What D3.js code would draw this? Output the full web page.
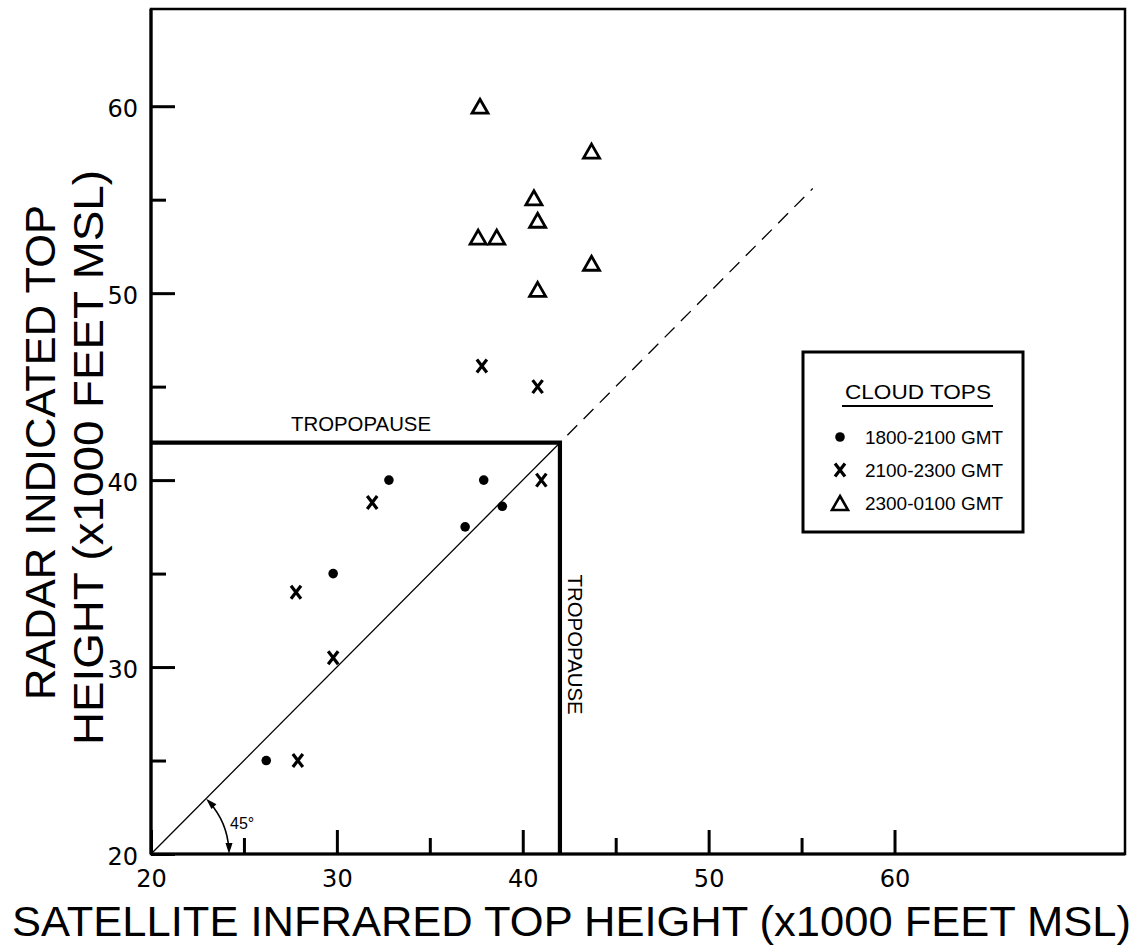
<!DOCTYPE html>
<html>
<head>
<meta charset="utf-8">
<script src="https://cdn.jsdelivr.net/npm/d3@7"></script>
<style>
  html, body { margin: 0; padding: 0; background: #fff; }
  svg { display: block; }
  text { fill: #000; }
</style>
</head>
<body>
<svg id="chart" width="1143" height="950"></svg>
<script>
// ---- data (x1000 ft MSL) ----
const seriesNames = ["1800-2100 GMT", "2100-2300 GMT", "2300-0100 GMT"];
const dotX   = [26.2, 29.8, 32.8, 36.9, 37.9, 38.9];
const dotY   = [25.0, 35.0, 40.0, 37.5, 40.0, 38.6];
const crossX = [27.9, 27.8, 29.8, 31.9, 41.0, 37.8, 40.8];
const crossY = [25.0, 34.0, 30.5, 38.8, 40.0, 46.1, 45.0];
const triX   = [37.7, 43.7, 40.6, 40.8, 37.6, 38.6, 43.7, 40.8];
const triY   = [60.0, 57.6, 55.1, 53.9, 53.0, 53.0, 51.6, 50.2];
const majorTicks = [20, 30, 40, 50, 60];
const minorTicks = [25, 35, 45, 55];
const tropopause = 42;
const diagSolidEnd = 42;
const diagDashStart = 42.4, diagDashEnd = 55.6;
const xTitle = "SATELLITE INFRARED TOP HEIGHT (x1000 FEET MSL)";
const yTitle1 = "RADAR INDICATED TOP";
const yTitle2 = "HEIGHT (x1000 FEET MSL)";
const legendTitle = "CLOUD TOPS";

// ---- layout ----
const L = 151, R = 1125, T = 9, B = 854;
const x = d3.scaleLinear().domain([20, 72.4]).range([L, R]);
const y = d3.scaleLinear().domain([20, 65.2]).range([B, T]);

const svg = d3.select("#chart");
const tickFont = "'DejaVu Sans', sans-serif";
const letterFont = "'Liberation Sans', Arial, sans-serif";

// frame
svg.append("rect").attr("x", L).attr("y", T).attr("width", R - L).attr("height", B - T)
  .attr("fill", "none").attr("stroke", "#000").attr("stroke-width", 2.5);

// axes (ticks inward)
function styleAxis(g) {
  g.select(".domain").remove();
  g.selectAll(".tick line").attr("stroke", "#000").attr("stroke-width", 3);
  g.selectAll(".tick text").attr("font-family", tickFont).attr("font-size", 24).attr("fill", "#000");
}
svg.append("g").attr("transform", `translate(0,${B})`)
  .call(d3.axisBottom(x).tickValues(majorTicks).tickSize(-24).tickPadding(16).tickFormat(d3.format("d")))
  .call(styleAxis);
svg.append("g").attr("transform", `translate(0,${B})`)
  .call(d3.axisBottom(x).tickValues(minorTicks).tickSize(-16).tickFormat(""))
  .call(styleAxis);
svg.append("g").attr("transform", `translate(${L},0)`)
  .call(d3.axisLeft(y).tickValues(majorTicks).tickSize(-24).tickPadding(13).tickFormat(d3.format("d")))
  .call(styleAxis)
  .selectAll(".tick text").attr("dy", "0.42em");
svg.append("g").attr("transform", `translate(${L},0)`)
  .call(d3.axisLeft(y).tickValues(minorTicks).tickSize(-15).tickFormat(""))
  .call(styleAxis);

// axis lines (heavier left/bottom)
svg.append("line").attr("x1", L).attr("x2", L).attr("y1", T).attr("y2", B).attr("stroke", "#000").attr("stroke-width", 3.2);
svg.append("line").attr("x1", L).attr("x2", R).attr("y1", B).attr("y2", B).attr("stroke", "#000").attr("stroke-width", 3.2);

// tropopause box
svg.append("path")
  .attr("d", `M${x(20)},${y(tropopause)}L${x(tropopause)},${y(tropopause)}L${x(tropopause)},${y(20)}`)
  .attr("fill", "none").attr("stroke", "#000").attr("stroke-width", 4.2);

// 45 degree line
svg.append("line").attr("x1", x(20)).attr("y1", y(20)).attr("x2", x(diagSolidEnd)).attr("y2", y(diagSolidEnd))
  .attr("stroke", "#000").attr("stroke-width", 1.3);
svg.append("line").attr("x1", x(diagDashStart)).attr("y1", y(diagDashStart)).attr("x2", x(diagDashEnd)).attr("y2", y(diagDashEnd))
  .attr("stroke", "#000").attr("stroke-width", 1.3).attr("stroke-dasharray", "14,9");

// tropopause labels
svg.append("text").attr("x", x(31.3)).attr("y", y(42) - 12).attr("text-anchor", "middle")
  .attr("font-family", letterFont).attr("font-size", 21).attr("textLength", 140).attr("lengthAdjust", "spacingAndGlyphs")
  .text("TROPOPAUSE");
svg.append("text").attr("transform", `translate(${x(42) + 8},${y(31.2)}) rotate(90)`).attr("text-anchor", "middle")
  .attr("font-family", letterFont).attr("font-size", 21).attr("textLength", 140).attr("lengthAdjust", "spacingAndGlyphs")
  .text("TROPOPAUSE");

// 45 degree arc with arrowheads
const cx = x(20), cy = y(20), r = 78;
const arcPath = d3.path();
arcPath.arc(cx, cy, r, -Math.PI / 4 + 0.06, -0.06, false);
svg.append("path").attr("d", arcPath.toString()).attr("fill", "none").attr("stroke", "#000").attr("stroke-width", 1.6);
function arrowHead(angle, dir) {
  const tx = cx + r * Math.cos(angle), ty = cy + r * Math.sin(angle);
  const tang = [-Math.sin(angle) * dir, Math.cos(angle) * dir];
  const nrm = [Math.cos(angle), Math.sin(angle)];
  const len = 11, w = 3.5;
  const bx = tx - tang[0] * len, by = ty - tang[1] * len;
  svg.append("path")
    .attr("d", `M${tx},${ty}L${bx + nrm[0] * w},${by + nrm[1] * w}L${bx - nrm[0] * w},${by - nrm[1] * w}Z`)
    .attr("fill", "#000");
}
arrowHead(0, 1);
arrowHead(-Math.PI / 4, -1);
svg.append("text").attr("x", cx + 79).attr("y", cy - 25)
  .attr("font-family", letterFont).attr("font-size", 16).text("45°");

// markers
const crossPath = "M-5,-6.5L5,6.5M5,-6.5L-5,6.5";
const triPath = "M0,-7L8,7L-8,7Z";
svg.append("g").selectAll("circle").data(dotX.map((d, i) => [d, dotY[i]])).join("circle")
  .attr("cx", d => x(d[0])).attr("cy", d => y(d[1])).attr("r", 4.8).attr("fill", "#000");
svg.append("g").selectAll("path").data(crossX.map((d, i) => [d, crossY[i]])).join("path")
  .attr("transform", d => `translate(${x(d[0])},${y(d[1])})`).attr("d", crossPath)
  .attr("stroke", "#000").attr("stroke-width", 3.2).attr("fill", "none");
svg.append("g").selectAll("path").data(triX.map((d, i) => [d, triY[i]])).join("path")
  .attr("transform", d => `translate(${x(d[0])},${y(d[1])})`).attr("d", triPath)
  .attr("stroke", "#000").attr("stroke-width", 2.8).attr("fill", "none").attr("stroke-linejoin", "miter");

// legend
const lg = svg.append("g");
lg.append("rect").attr("x", 803).attr("y", 352).attr("width", 220).attr("height", 180)
  .attr("fill", "#fff").attr("stroke", "#000").attr("stroke-width", 3);
lg.append("text").attr("x", 918).attr("y", 399).attr("text-anchor", "middle")
  .attr("font-family", letterFont).attr("font-size", 21).attr("textLength", 146).attr("lengthAdjust", "spacingAndGlyphs")
  .text(legendTitle);
lg.append("line").attr("x1", 842).attr("x2", 993).attr("y1", 406).attr("y2", 406).attr("stroke", "#000").attr("stroke-width", 2);
const rowY = [437, 470, 503];
lg.append("circle").attr("cx", 840).attr("cy", rowY[0]).attr("r", 4.8).attr("fill", "#000");
lg.append("path").attr("transform", `translate(840,${rowY[1]})`).attr("d", crossPath)
  .attr("stroke", "#000").attr("stroke-width", 3.2).attr("fill", "none");
lg.append("path").attr("transform", `translate(840,${rowY[2]})`).attr("d", triPath)
  .attr("stroke", "#000").attr("stroke-width", 2.6).attr("fill", "none");
seriesNames.forEach((s, i) => {
  lg.append("text").attr("x", 865).attr("y", rowY[i] + 7)
    .attr("font-family", letterFont).attr("font-size", 19).attr("textLength", 138).attr("lengthAdjust", "spacingAndGlyphs")
    .text(s);
});

// axis titles
svg.append("text").attr("x", 12).attr("y", 936)
  .attr("font-family", letterFont).attr("font-size", 42).attr("textLength", 1119).attr("lengthAdjust", "spacingAndGlyphs")
  .text(xTitle);
svg.append("text").attr("transform", `translate(55,${(205 + 700) / 2}) rotate(-90)`).attr("text-anchor", "middle")
  .attr("font-family", letterFont).attr("font-size", 42).attr("textLength", 495).attr("lengthAdjust", "spacingAndGlyphs")
  .text(yTitle1);
svg.append("text").attr("transform", `translate(103,${(170 + 745) / 2}) rotate(-90)`).attr("text-anchor", "middle")
  .attr("font-family", letterFont).attr("font-size", 42).attr("textLength", 575).attr("lengthAdjust", "spacingAndGlyphs")
  .text(yTitle2);
</script>
</body>
</html>
